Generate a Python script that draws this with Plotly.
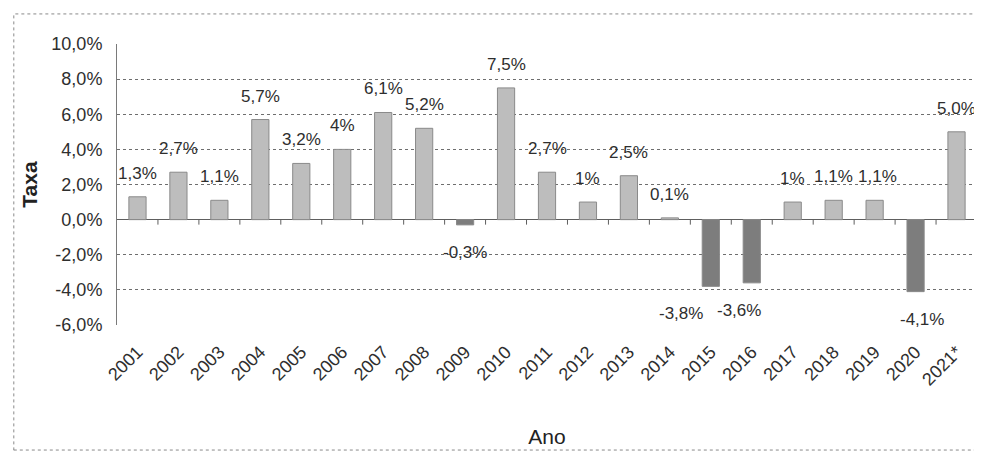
import plotly.graph_objects as go

anos = ["2001", "2002", "2003", "2004", "2005", "2006", "2007", "2008", "2009", "2010",
        "2011", "2012", "2013", "2014", "2015", "2016", "2017", "2018", "2019", "2020", "2021*"]
taxas = [1.3, 2.7, 1.1, 5.7, 3.2, 4.0, 6.1, 5.2, -0.3, 7.5,
         2.7, 1.0, 2.5, 0.1, -3.8, -3.6, 1.0, 1.1, 1.1, -4.1, 5.0]
rotulos = ["1,3%", "2,7%", "1,1%", "5,7%", "3,2%", "4%", "6,1%", "5,2%", "-0,3%", "7,5%",
           "2,7%", "1%", "2,5%", "0,1%", "-3,8%", "-3,6%", "1%", "1,1%", "1,1%", "-4,1%", "5,0%"]
y_ticks = [-6, -4, -2, 0, 2, 4, 6, 8, 10]
y_tick_labels = ["-6,0%", "-4,0%", "-2,0%", "0,0%", "2,0%", "4,0%", "6,0%", "8,0%", "10,0%"]

# style: horizontal nudges (px) of a few labels, as placed in the original
label_xshift = {"2015": -30, "2016": -13, "2019": 3, "2020": 6}

FONT = "Liberation Sans"
TXT = "#2e2e2e"
cores = ["#bdbdbd" if v >= 0 else "#7d7d7d" for v in taxas]

fig = go.Figure()
fig.add_trace(go.Bar(
    x=anos, y=taxas,
    marker=dict(color=cores, line=dict(color="#8a8a8a", width=1)),
    width=0.42,
    hoverinfo="x+y",
))

# category positions (index) used so labels sit on the category scale
for i, (a, v, r) in enumerate(zip(anos, taxas, rotulos)):
    fig.add_annotation(
        x=i, y=v, xref="x", yref="y", text=r, showarrow=False,
        yanchor="bottom" if v >= 0 else "top",
        yshift=12 if v >= 0 else -16,
        xshift=label_xshift.get(a, 0),
        font=dict(family=FONT, size=17, color=TXT),
    )

# small tick marks on the zero line between categories
for i in range(len(anos)):
    fig.add_shape(type="line", xref="x", yref="y",
                  x0=i + 0.5, x1=i + 0.5, y0=0, y1=-5,
                  ysizemode="pixel", yanchor=0,
                  line=dict(color="#5e5e5e", width=1))

# outer dotted border of the chart
fig.add_shape(type="rect", xref="paper", yref="paper",
              x0=-0.12, x1=1.0035, y0=-0.445, y1=1.107,
              line=dict(color="#8a8a8a", width=1, dash="dot"), layer="below")

fig.update_layout(
    width=982, height=454,
    margin=dict(l=109, r=13, t=36, b=137),
    paper_bgcolor="white", plot_bgcolor="white",
    showlegend=False,
    font=dict(family=FONT, color=TXT),
    xaxis=dict(
        type="category",
        categoryorder="array", categoryarray=anos,
        range=[-0.5, len(anos) - 0.5],
        tickangle=-45,
        tickfont=dict(family=FONT, size=18, color=TXT),
        ticklabelstandoff=12,
        showgrid=False,
        showline=False,
        ticks="",
        title=dict(text="Ano", font=dict(family=FONT, size=21, color="#222222"), standoff=40),
    ),
    yaxis=dict(
        range=[-6, 10],
        tickvals=y_ticks, ticktext=y_tick_labels,
        tickfont=dict(family=FONT, size=18, color=TXT),
        ticklabelstandoff=10,
        showgrid=True, gridcolor="#6e6e6e", gridwidth=1, griddash="dot",
        zeroline=True, zerolinecolor="#5e5e5e", zerolinewidth=1,
        showline=True, linecolor="#7a7a7a", linewidth=1,
        ticks="", ticklen=0,
        title=dict(text="<b>Taxa</b>", font=dict(family=FONT, size=21, color="#222222"), standoff=8),
    ),
)

fig.write_html("out.html")
